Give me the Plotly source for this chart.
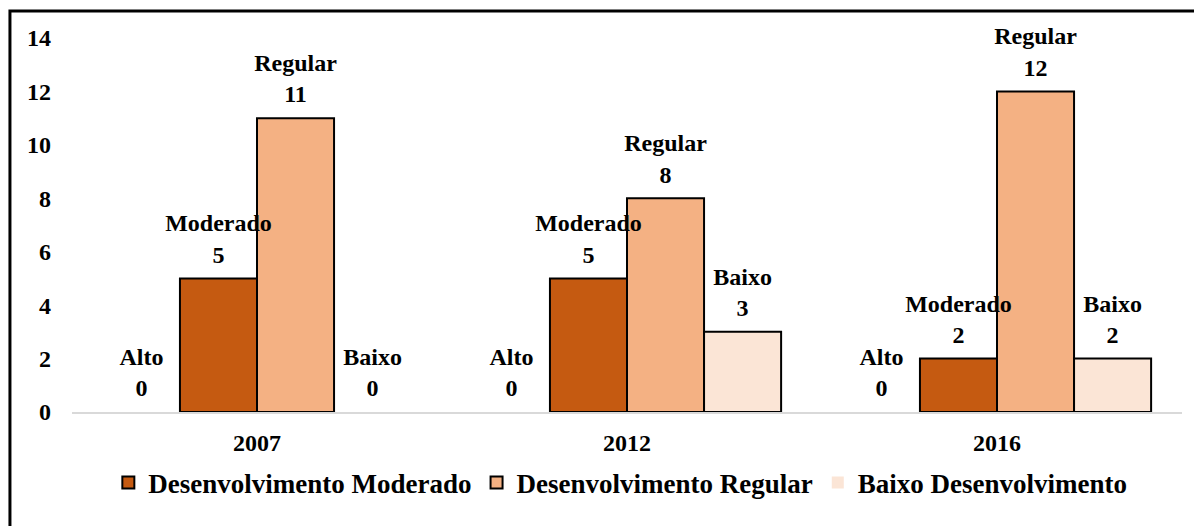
import plotly.graph_objects as go

years = ["2007", "2012", "2016"]
alto = [0, 0, 0]
moderado = [5, 5, 2]
regular = [11, 8, 12]
baixo = [0, 3, 2]

series_names = ["Alto", "Desenvolvimento Moderado", "Desenvolvimento Regular", "Baixo Desenvolvimento"]
short_names = ["Alto", "Moderado", "Regular", "Baixo"]
colors = ["#FFFFFF", "#C55A11", "#F4B183", "#FBE5D6"]
values = [alto, moderado, regular, baixo]

FONT = "Times New Roman, Liberation Serif, serif"
GAP = 0.167

fig = go.Figure()
for name, short, col, vals in zip(series_names, short_names, colors, values):
    fig.add_trace(go.Bar(
        x=years, y=vals, name=name, offsetgroup=short,
        marker=dict(color=col,
                    line=dict(color="#000000", width=[2 if v > 0 else 0 for v in vals])),
        showlegend=(short != "Alto"),
        hoverinfo="skip",
    ))

# labels as grouped scatter text so they sit on top of neighbouring bars;
# an invisible marker pushes the text a bit higher above the bar top
for short, vals in zip(short_names, values):
    fig.add_trace(go.Scatter(
        x=years, y=vals, mode="markers+text", offsetgroup=short,
        marker=dict(size=14, color="rgba(0,0,0,0)"),
        text=[f"{short}<br>{v}" for v in vals],
        textposition="top center", cliponaxis=False,
        textfont=dict(family=FONT, size=24, color="#000000", weight="bold"),
        showlegend=False, hoverinfo="skip",
    ))

# page body has an 8px margin, so the figure is 8px smaller than the window
fig.update_layout(
    barmode="group", bargap=GAP, bargroupgap=0,
    scattermode="group", scattergap=GAP,
    width=1194, height=518,
    margin=dict(l=64, r=20, t=30, b=114),
    plot_bgcolor="white", paper_bgcolor="white",
    font=dict(family=FONT, color="#000000"),
    legend=dict(orientation="h", x=0.494, xanchor="center", y=-0.19, yanchor="middle",
                font=dict(family=FONT, size=27, weight="bold"),
                itemclick=False, itemdoubleclick=False),
    shapes=[dict(type="rect", xref="paper", yref="paper",
                 x0=-0.0559, x1=1.03, y0=-0.33, y1=1.0722,
                 line=dict(color="#000000", width=3), layer="above")],
)
fig.update_xaxes(showline=True, linecolor="#D9D9D9", linewidth=2, ticks="",
                 tickfont=dict(family=FONT, size=24, weight="bold"),
                 ticklabelstandoff=8)
fig.update_yaxes(range=[0, 14], dtick=2, showgrid=False, showline=False, zeroline=False,
                 ticks="", tickfont=dict(family=FONT, size=24, weight="bold"),
                 ticklabelstandoff=20)

fig.write_html("out.html")
